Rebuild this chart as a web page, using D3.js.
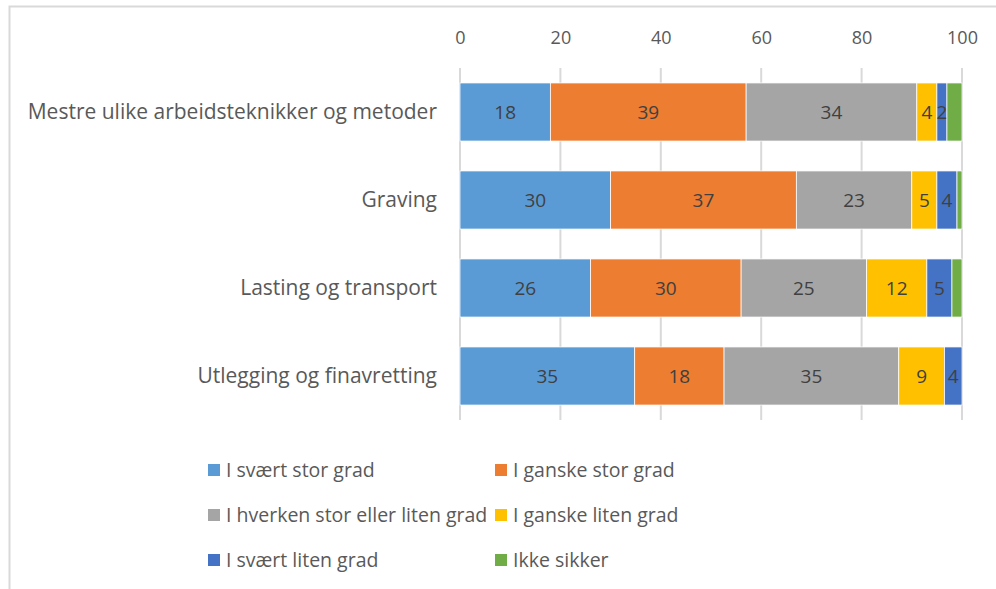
<!DOCTYPE html>
<html lang="no">
<head>
<meta charset="UTF-8">
<title>Chart</title>
<script src="https://cdnjs.cloudflare.com/ajax/libs/d3/7.8.5/d3.min.js"></script>
<style>
    body { margin: 0; background: #fff; }
    svg text { font-family: "Open Sans", "Noto Sans", sans-serif; fill: #595959; }
</style>
</head>
<body>
<div id="chart"></div>
<script>
    // data (labels are the rounded values)
    var categories = ["Mestre ulike arbeidsteknikker og metoder", "Graving", "Lasting og transport", "Utlegging og finavretting"];
    var seriesNames = ["I svært stor grad", "I ganske stor grad", "I hverken stor eller liten grad", "I ganske liten grad", "I svært liten grad", "Ikke sikker"];
    var seriesColors = ["#5b9bd5", "#ed7d31", "#a5a5a5", "#ffc000", "#4472c4", "#70ad47"];
    var svaertStor = [18, 30, 26, 34.8];
    var ganskeStor = [39, 37, 30, 17.8];
    var hverken = [34, 23, 25, 34.8];
    var ganskeLiten = [4, 5, 12, 9.1];
    var svaertLiten = [2, 4, 5, 3.5];
    var ikkeSikker = [3, 1, 2, 0];
    var xTicks = [0, 20, 40, 60, 80, 100];

    var values = [svaertStor, ganskeStor, hverken, ganskeLiten, svaertLiten, ikkeSikker];
    var showLabel = [true, true, true, true, true, false];

    var W = 996, H = 589;
    var svg = d3.select("#chart").append("svg")
        .attr("width", W)
        .attr("height", H);

    // chart frame (top + left visible)
    svg.append("path")
        .attr("d", "M9.5," + H + "V6.5H" + W)
        .attr("fill", "none")
        .attr("stroke", "#d9d9d9")
        .attr("stroke-width", 2);

    var x = d3.scaleLinear().domain([0, 100]).range([460, 962]);
    var y = d3.scaleBand().domain(categories).range([68, 420]).paddingInner(0.34).paddingOuter(0.17);

    // gridlines
    svg.append("g").selectAll("line")
        .data(xTicks).enter().append("line")
        .attr("x1", function (d) { return x(d); })
        .attr("x2", function (d) { return x(d); })
        .attr("y1", 68)
        .attr("y2", 420)
        .attr("stroke", "#d9d9d9")
        .attr("stroke-width", 2);

    // top axis labels
    var xAxis = svg.append("g")
        .attr("transform", "translate(0,44)")
        .call(d3.axisTop(x).tickValues(xTicks).tickSize(0).tickPadding(0));
    xAxis.select(".domain").remove();
    xAxis.selectAll("text")
        .attr("fill", "#595959")
        .style("font-size", "18px");

    // category labels
    var yAxis = svg.append("g")
        .attr("transform", "translate(437,0)")
        .call(d3.axisLeft(y).tickSize(0).tickPadding(0));
    yAxis.select(".domain").remove();
    yAxis.selectAll("text")
        .attr("fill", "#595959")
        .style("font-size", "21px");

    // stacked bars
    var rows = categories.map(function (c, i) {
        var r = { cat: c };
        seriesNames.forEach(function (s, j) { r[s] = values[j][i]; });
        return r;
    });
    var stacked = d3.stack().keys(seriesNames)(rows);

    var groups = svg.append("g").selectAll("g")
        .data(stacked).enter().append("g")
        .attr("fill", function (d, i) { return seriesColors[i]; });

    groups.selectAll("rect")
        .data(function (d) { return d; })
        .enter().append("rect")
        .attr("x", function (d) { return x(d[0]); })
        .attr("y", function (d) { return y(d.data.cat); })
        .attr("width", function (d) { return Math.max(0, x(d[1]) - x(d[0])); })
        .attr("height", y.bandwidth())
        .attr("stroke", "#fff")
        .attr("stroke-width", 0.75);

    groups.each(function (s, i) {
        if (!showLabel[i]) return;
        d3.select(this).selectAll("text")
            .data(s.filter(function (d) { return d[1] - d[0] > 0; }))
            .enter().append("text")
            .attr("x", function (d) { return (x(d[0]) + x(d[1])) / 2; })
            .attr("y", function (d) { return y(d.data.cat) + y.bandwidth() / 2; })
            .attr("dy", "0.35em")
            .attr("text-anchor", "middle")
            .style("fill", "#404040")
            .style("font-size", "19px")
            .text(function (d) { return Math.round(d[1] - d[0]); });
    });

    // legend, two columns
    var legend = svg.append("g").selectAll("g")
        .data(seriesNames).enter().append("g")
        .attr("transform", function (d, i) {
            return "translate(" + (i % 2 ? 495 : 208) + "," + (470 + Math.floor(i / 2) * 45) + ")";
        });
    legend.append("rect")
        .attr("x", 0)
        .attr("y", -6)
        .attr("width", 12)
        .attr("height", 12)
        .attr("fill", function (d, i) { return seriesColors[i]; });
    legend.append("text")
        .attr("x", 18)
        .attr("dy", "0.35em")
        .style("font-size", "19.5px")
        .text(function (d) { return d; });
</script>
</body>
</html>
